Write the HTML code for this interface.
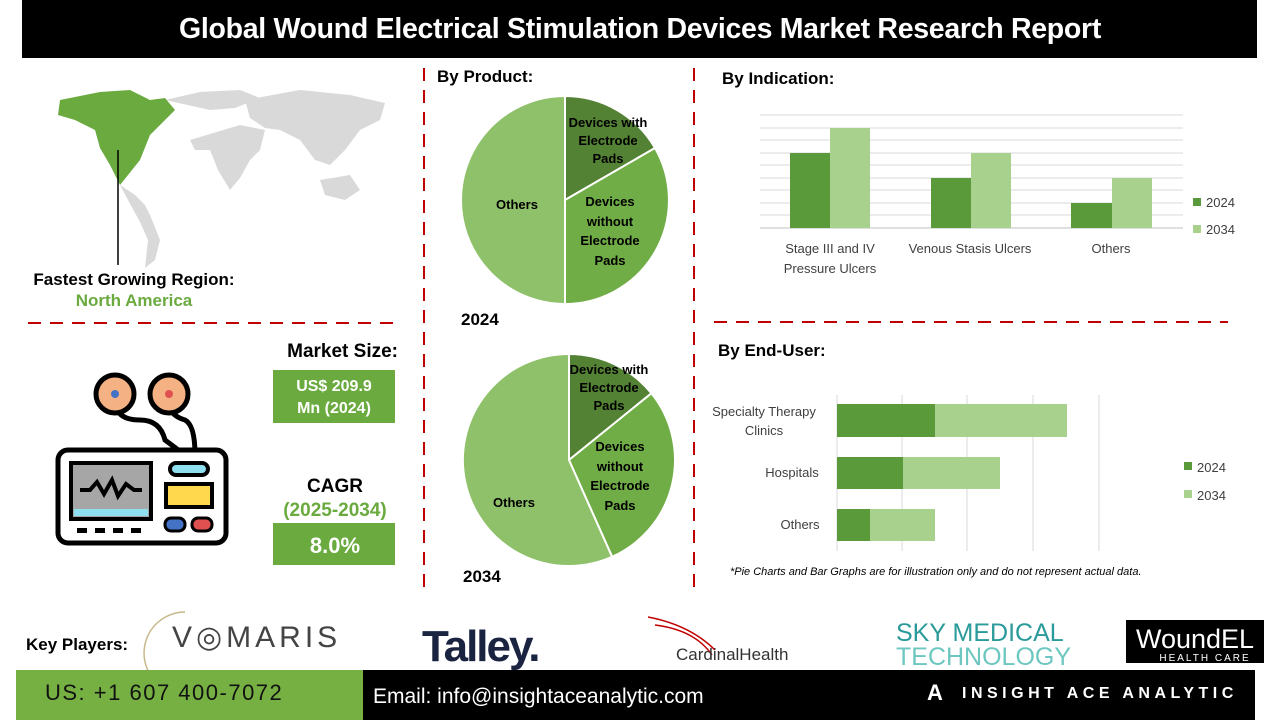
<!DOCTYPE html>
<html><head><meta charset="utf-8"><style>
body{margin:0;width:1280px;height:720px;background:#fff;font-family:"Liberation Sans",sans-serif;overflow:hidden}
</style></head><body>
<svg width="1280" height="720" xmlns="http://www.w3.org/2000/svg" font-family="Liberation Sans, sans-serif">
<rect x="22" y="0" width="1235" height="58" fill="#000"/>
<text x="640" y="38" text-anchor="middle" fill="#fff" font-size="28.5" font-weight="bold" letter-spacing="-0.3">Global Wound Electrical Stimulation Devices Market Research Report</text>

<!-- map -->
<g fill="#d9d9d9">
<path d="M120 185 L135 195 L145 205 L150 215 L160 240 L155 260 L145 268 L148 240 L140 222 L128 200 Z"/>
<path d="M165 100 L200 92 L240 90 L260 98 L235 108 L210 110 Z"/>
<path d="M190 140 L240 125 L265 130 L260 150 L250 160 L240 178 L230 190 L218 170 L210 150 L195 150 Z"/>
<path d="M245 100 L300 90 L350 95 L385 103 L380 120 L360 130 L345 150 L330 165 L315 160 L300 140 L280 130 L265 128 L250 118 Z"/>
<path d="M320 180 L350 175 L360 190 L345 200 L325 195 Z"/>
</g>
<path d="M58 115 L60 100 L100 92 L130 90 L150 100 L165 98 L175 110 L165 120 L150 135 L140 160 L128 175 L120 185 L110 165 L100 148 L95 130 L75 120 Z" fill="#6aaa3f"/>
<line x1="118" y1="150" x2="118" y2="265" stroke="#000" stroke-width="1.5"/>
<text x="134" y="285" text-anchor="middle" font-size="17" font-weight="bold">Fastest Growing Region:</text>
<text x="134" y="306" text-anchor="middle" font-size="17" font-weight="bold" fill="#6aaa3f">North America</text>
<line x1="28" y1="323" x2="396" y2="323" stroke="#c00000" stroke-width="2" stroke-dasharray="13,9"/>

<!-- device icon -->
<g stroke="#000" stroke-width="5" fill="none">
<path d="M115 400 Q115 420 140 420 Q160 420 165 440 L185 455"/>
<path d="M168 400 Q168 415 185 420 Q195 425 195 455"/>
</g>
<circle cx="115" cy="394" r="19" fill="#f4b183" stroke="#000" stroke-width="5"/>
<circle cx="115" cy="394" r="4" fill="#4472c4"/>
<circle cx="169" cy="394" r="19" fill="#f4b183" stroke="#000" stroke-width="5"/>
<circle cx="169" cy="394" r="4" fill="#e05050"/>
<rect x="58" y="450" width="168" height="93" rx="10" fill="#fff" stroke="#000" stroke-width="5"/>
<rect x="71" y="463" width="80" height="56" fill="#a6a6a6" stroke="#000" stroke-width="4"/>
<rect x="74" y="509" width="74" height="7" fill="#8ee0f0"/>
<path d="M80 490 L90 490 L97 482 L104 494 L112 480 L118 496 L126 484 L134 490 L142 490" stroke="#000" stroke-width="4" fill="none"/>
<rect x="170" y="463" width="38" height="12" rx="6" fill="#8ee0f0" stroke="#000" stroke-width="4"/>
<rect x="166" y="484" width="46" height="23" fill="#ffd84d" stroke="#000" stroke-width="4"/>
<rect x="165" y="518" width="20" height="13" rx="6" fill="#4472c4" stroke="#000" stroke-width="3"/>
<rect x="192" y="518" width="20" height="13" rx="6" fill="#e05050" stroke="#000" stroke-width="3"/>
<g fill="#000"><rect x="77" y="528" width="10" height="5"/><rect x="95" y="528" width="10" height="5"/><rect x="113" y="528" width="10" height="5"/><rect x="131" y="528" width="10" height="5"/></g>

<text x="398" y="357" text-anchor="end" font-size="19" font-weight="bold">Market Size:</text>
<rect x="273" y="370" width="122" height="53" fill="#6aaa3f"/>
<text x="334" y="391" text-anchor="middle" font-size="16" font-weight="bold" fill="#fff">US$ 209.9</text>
<text x="334" y="413" text-anchor="middle" font-size="16" font-weight="bold" fill="#fff">Mn (2024)</text>
<text x="335" y="492" text-anchor="middle" font-size="19" font-weight="bold">CAGR</text>
<text x="335" y="516" text-anchor="middle" font-size="19" font-weight="bold" fill="#6aaa3f">(2025-2034)</text>
<rect x="273" y="523" width="122" height="42" fill="#6aaa3f"/>
<text x="335" y="553" text-anchor="middle" font-size="22" font-weight="bold" fill="#fff">8.0%</text>

<line x1="424" y1="68" x2="424" y2="590" stroke="#c00000" stroke-width="2" stroke-dasharray="13,9"/>
<line x1="694" y1="68" x2="694" y2="590" stroke="#c00000" stroke-width="2" stroke-dasharray="13,9"/>
<line x1="714" y1="322" x2="1228" y2="322" stroke="#c00000" stroke-width="2" stroke-dasharray="13,9"/>

<!-- pies -->
<text x="437" y="82" font-size="17" font-weight="bold">By Product:</text>
<g stroke="#fff" stroke-width="2">
<path d="M565 200 L565 96 A104 104 0 0 1 655 148 Z" fill="#548235"/>
<path d="M565 200 L655 148 A104 104 0 0 1 565 304 Z" fill="#70ad47"/>
<path d="M565 200 L565 304 A104 104 0 0 1 565 96 Z" fill="#8fc16a"/>
</g>
<g font-size="13" font-weight="bold" text-anchor="middle" fill="#000">
<text x="608" y="127">Devices with</text><text x="608" y="145">Electrode</text><text x="608" y="163">Pads</text>
<text x="610" y="206">Devices</text><text x="610" y="226">without</text><text x="610" y="245">Electrode</text><text x="610" y="265">Pads</text>
<text x="517" y="209">Others</text>
</g>
<text x="461" y="325" font-size="17" font-weight="bold">2024</text>

<g stroke="#fff" stroke-width="2">
<path d="M569 460 L569 354 A106 106 0 0 1 651.4 393.3 Z" fill="#548235"/>
<path d="M569 460 L651.4 393.3 A106 106 0 0 1 612.1 556.8 Z" fill="#70ad47"/>
<path d="M569 460 L612.1 556.8 A106 106 0 1 1 569 354 Z" fill="#8fc16a"/>
</g>
<g font-size="13" font-weight="bold" text-anchor="middle" fill="#000">
<text x="609" y="374">Devices with</text><text x="609" y="392">Electrode</text><text x="609" y="410">Pads</text>
<text x="620" y="451">Devices</text><text x="620" y="471">without</text><text x="620" y="490">Electrode</text><text x="620" y="510">Pads</text>
<text x="514" y="507">Others</text>
</g>
<text x="463" y="582" font-size="17" font-weight="bold">2034</text>

<!-- indication -->
<text x="722" y="84" font-size="17" font-weight="bold">By Indication:</text>
<g stroke="#d9d9d9" stroke-width="1">
<line x1="760" y1="115" x2="1183" y2="115"/><line x1="760" y1="128" x2="1183" y2="128"/><line x1="760" y1="140" x2="1183" y2="140"/><line x1="760" y1="153" x2="1183" y2="153"/><line x1="760" y1="165" x2="1183" y2="165"/><line x1="760" y1="178" x2="1183" y2="178"/><line x1="760" y1="190" x2="1183" y2="190"/><line x1="760" y1="203" x2="1183" y2="203"/><line x1="760" y1="215" x2="1183" y2="215"/>
</g>
<line x1="760" y1="228" x2="1183" y2="228" stroke="#bfbfbf"/>
<rect x="790" y="153" width="40" height="75" fill="#5a9a3a"/>
<rect x="830" y="128" width="40" height="100" fill="#a9d18e"/>
<rect x="931" y="178" width="40" height="50" fill="#5a9a3a"/>
<rect x="971" y="153" width="40" height="75" fill="#a9d18e"/>
<rect x="1071" y="203" width="41" height="25" fill="#5a9a3a"/>
<rect x="1112" y="178" width="40" height="50" fill="#a9d18e"/>
<g font-size="13" fill="#404040" text-anchor="middle">
<text x="830" y="253">Stage III and IV</text><text x="830" y="273">Pressure Ulcers</text>
<text x="970" y="253">Venous Stasis Ulcers</text>
<text x="1111" y="253">Others</text>
</g>
<rect x="1193" y="198" width="8" height="8" fill="#5a9a3a"/><text x="1206" y="207" font-size="13" fill="#404040">2024</text>
<rect x="1193" y="225" width="8" height="8" fill="#a9d18e"/><text x="1206" y="234" font-size="13" fill="#404040">2034</text>

<!-- end-user -->
<text x="718" y="356" font-size="17" font-weight="bold">By End-User:</text>
<g stroke="#d9d9d9"><line x1="837" y1="395" x2="837" y2="551"/><line x1="902" y1="395" x2="902" y2="551"/><line x1="967" y1="395" x2="967" y2="551"/><line x1="1033" y1="395" x2="1033" y2="551"/><line x1="1099" y1="395" x2="1099" y2="551"/></g>
<rect x="837" y="404" width="98" height="33" fill="#5a9a3a"/><rect x="935" y="404" width="132" height="33" fill="#a9d18e"/>
<rect x="837" y="457" width="66" height="32" fill="#5a9a3a"/><rect x="903" y="457" width="97" height="32" fill="#a9d18e"/>
<rect x="837" y="509" width="33" height="32" fill="#5a9a3a"/><rect x="870" y="509" width="65" height="32" fill="#a9d18e"/>
<g font-size="13" fill="#404040" text-anchor="middle">
<text x="764" y="416">Specialty Therapy</text><text x="764" y="435">Clinics</text>
<text x="792" y="477">Hospitals</text><text x="800" y="529">Others</text>
</g>
<rect x="1184" y="462" width="8" height="8" fill="#5a9a3a"/><text x="1197" y="472" font-size="13" fill="#404040">2024</text>
<rect x="1184" y="490" width="8" height="8" fill="#a9d18e"/><text x="1197" y="500" font-size="13" fill="#404040">2034</text>
<text x="730" y="575" font-size="11" font-style="italic">*Pie Charts and Bar Graphs are for illustration only and do not represent actual data.</text>

<!-- logos -->
<text x="26" y="650" font-size="17" font-weight="bold">Key Players:</text>
<path d="M185 612 A38 38 0 0 0 185 694" stroke="#c9b88a" fill="none" stroke-width="1.5"/>
<text x="172" y="647" font-size="30" fill="#444" letter-spacing="4">V◎MARIS</text>
<text x="422" y="661" font-size="44" font-weight="bold" fill="#1a2340" letter-spacing="-2">Talley.</text>
<path d="M648 617 Q690 625 715 650 M655 625 Q695 630 712 655" stroke="#c00000" fill="none" stroke-width="1.5"/>
<text x="676" y="660" font-size="17" fill="#333">CardinalHealth</text>
<text x="896" y="641" font-size="25" fill="#2a9a9a">SKY MEDICAL</text>
<text x="896" y="665" font-size="25" fill="#6cc7c0">TECHNOLOGY</text>
<rect x="1126" y="620" width="138" height="43" fill="#000"/>
<text x="1195" y="648" text-anchor="middle" font-size="27" fill="#fff">WoundEL</text>
<text x="1205" y="661" text-anchor="middle" font-size="10" fill="#fff" letter-spacing="2">HEALTH CARE</text>

<rect x="16" y="670" width="347" height="50" fill="#76b042"/>
<rect x="363" y="670" width="892" height="50" fill="#000"/>
<text x="45" y="700" font-size="22" fill="#111" letter-spacing="1.5">US: +1 607 400-7072</text>
<text x="373" y="703" font-size="21" fill="#fff">Email: info@insightaceanalytic.com</text>
<text x="927" y="700" font-size="22" font-weight="bold" fill="#fff">A</text>
<text x="962" y="698" font-size="16" font-weight="bold" fill="#fff" letter-spacing="4.5">INSIGHT ACE ANALYTIC</text>
</svg>
</body></html>
